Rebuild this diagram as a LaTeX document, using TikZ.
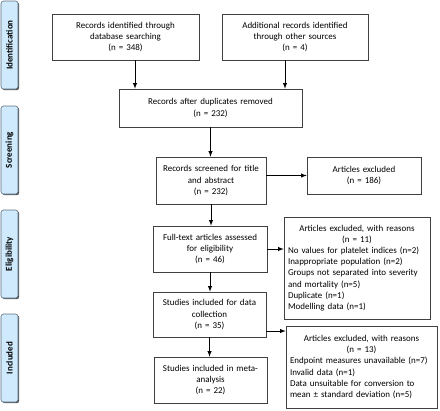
\documentclass[tikz,border=0pt]{standalone}
\usepackage{fontspec}
\setmainfont{Carlito}
\setlength{\parindent}{0pt}
\usetikzlibrary{shadows}

\definecolor{phasefill}{RGB}{206,234,252}
\definecolor{phaseline}{RGB}{95,112,126}

\begin{document}
\begin{tikzpicture}[x=1bp, y=-1bp, font=\fontsize{9}{11.2}\selectfont,
	entry/.style={draw=black!75, line width=0.6pt, fill=white, inner sep=4bp, align=center,
		drop shadow={shadow xshift=0.9bp, shadow yshift=-0.9bp, fill=black!30, opacity=1}},
	reason/.style={entry, align=left},
	phase/.style={draw=phaseline, line width=0.6pt, fill=phasefill, rounded corners=2.5bp,
		rotate=90, minimum width=88bp, minimum height=17bp, inner sep=0pt, font=\fontsize{9}{11}\selectfont\bfseries,
		drop shadow={shadow xshift=1.2bp, shadow yshift=-1.2bp, fill=black!65, opacity=1}},
	flow/.style={-latex, line width=0.9pt}]
			\useasboundingbox (0,0) rectangle (440,410);

			% Define coordinates
			\coordinate (P1) at (9.5,45);
			\coordinate (P2) at (9.5,150);
			\coordinate (P3) at (9.5,254);
			\coordinate (P4) at (9.5,358);
			\coordinate (DB) at (125.5,37);
			\coordinate (OS) at (295,37);
			\coordinate (DR) at (210.5,108);
			\coordinate (SC) at (211,180.5);
			\coordinate (EX) at (364,175.5);
			\coordinate (FT) at (210,249);
			\coordinate (R1) at (357,268);
			\coordinate (DC) at (209.5,314.5);
			\coordinate (R2) at (361.5,367);
			\coordinate (MA) at (210.5,380);

			% Phase labels on the left
			\node[phase] (ident) at (P1) {Identification};
			\node[phase] (scren) at (P2) {Screening};
			\node[phase] (elig) at (P3) {Eligibility};
			\node[phase] (incl) at (P4) {Included};

			% Boxes
			\node[entry, text width=139bp, minimum height=46bp] (dbase) at (DB) {Records identified through\\database searching\\(n = 348)};
			\node[entry, text width=138bp, minimum height=46bp] (other) at (OS) {Additional records identified\\through other sources\\(n = 4)};
			\node[entry, text width=175bp, minimum height=38bp] (dupl) at (DR) {Records after duplicates removed\\(n = 232)};
			\node[entry, text width=102bp, minimum height=47bp] (screen) at (SC) {Records screened for title\\and abstract\\(n = 232)};
			\node[entry, text width=106bp, minimum height=37bp] (excl) at (EX) {Articles excluded\\(n = 186)};
			\node[entry, text width=106bp, minimum height=46bp] (fulltext) at (FT) {Full-text articles assessed\\for eligibility\\(n = 46)};
			\node[reason, text width=138bp, minimum height=102bp] (reasA) at (R1) {{\centering Articles excluded, with reasons\\(n = 11)\par}
				No values for platelet indices (n=2)\\
				Inappropriate population (n=2)\\
				Groups not separated into severity\\
				and mortality (n=5)\\
				Duplicate (n=1)\\
				Modelling data (n=1)};
			\node[entry, text width=105bp, minimum height=45bp] (collect) at (DC) {Studies included for data\\collection\\(n = 35)};
			\node[reason, text width=143bp, minimum height=82bp] (reasB) at (R2) {{\centering Articles excluded, with reasons\\(n = 13)\par}
				Endpoint measures unavailable (n=7)\\
				Invalid data (n=1)\\
				Data unsuitable for conversion to\\
				mean ± standard deviation (n=5)};
			\node[entry, text width=105bp, minimum height=46bp] (meta) at (MA) {Studies included in meta-\\analysis\\(n = 22)};

			% Arrows
			\draw[flow] ([xshift=9.5bp]dbase.south) -- ([xshift=9.5bp]dbase.south |- dupl.north);
			\draw[flow] ([xshift=-10bp]other.south) -- ([xshift=-10bp]other.south |- dupl.north);
			\draw[flow] (dupl.south) -- (dupl.south |- screen.north);
			\draw[flow] (screen.east |- excl.west) -- (excl.west);
			\draw[flow] (screen.south) -- (screen.south |- fulltext.north);
			\draw[flow] (fulltext.east) -- (fulltext.east -| reasA.west);
			\draw[flow] (fulltext.south) -- (fulltext.south |- collect.north);
			\draw[flow] ([yshift=-16.5bp]collect.east) -- ([yshift=-16.5bp]collect.east -| reasB.west);
			\draw[flow] (collect.south) -- (collect.south |- meta.north);

		\end{tikzpicture}
\end{document}
